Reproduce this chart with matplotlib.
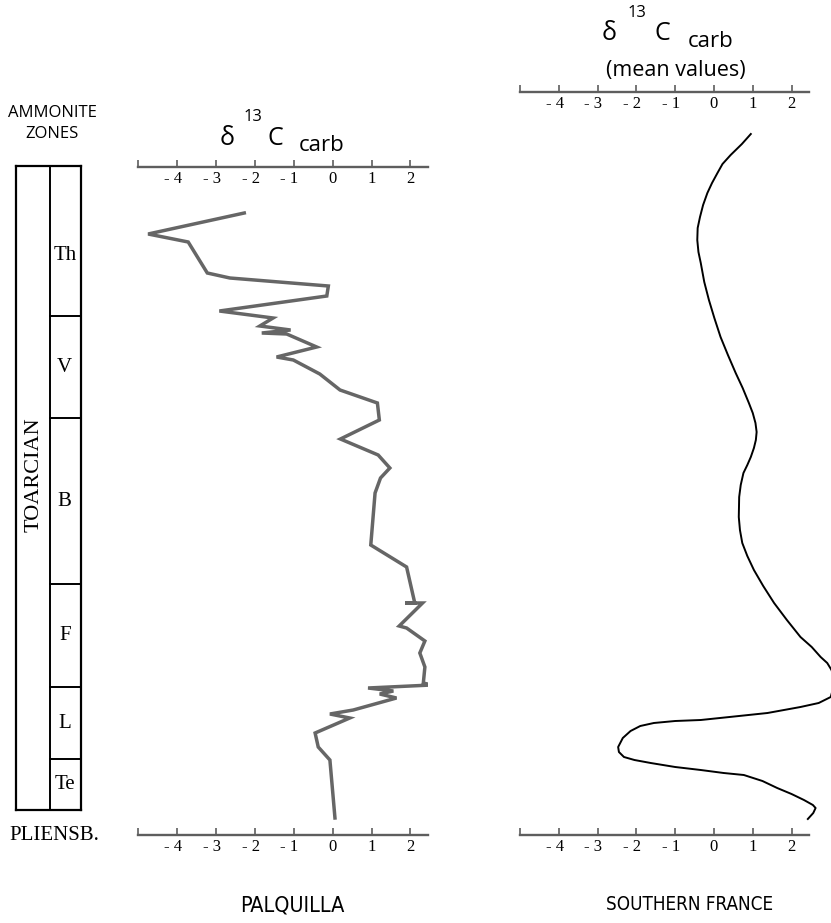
import matplotlib
matplotlib.use("Agg")
import matplotlib.pyplot as plt

# Palquilla d13C (carb) vs. stratigraphic height (same units as the zone column)
pal_d13c = [-2.27, -4.74, -3.71, -3.22, -2.64, -0.11, -0.15, -2.91, -1.53, -1.87,
            -1.08, -1.82, -1.18, -0.41, -1.44, -1.01, -0.33, 0.19, 1.15, 1.20,
            0.20, 1.17, 1.47, 1.23, 1.09, 0.98, 1.90, 2.11, 1.86, 2.31,
            1.71, 1.90, 2.37, 2.24, 2.37, 2.33, 2.54, 0.91, 1.56, 1.21,
            1.64, 0.53, -0.07, 0.44, -0.45, -0.37, -0.07, 0.06]
pal_height = [597, 576, 568, 537, 532, 524, 514, 499, 492, 484,
              480, 477, 476, 463, 453, 450, 436, 420, 407, 390,
              371, 355, 342, 332, 317, 265, 243, 207, 207, 207,
              184, 182, 169, 157, 143, 127, 125, 122, 119, 116,
              112, 100, 96, 92, 77, 63, 50, -8]

# Southern France mean d13C (carb) curve
sf_d13c = [0.95, 0.72, 0.43, 0.22, 0.09, -0.05, -0.17, -0.28, -0.36, -0.42,
           -0.43, -0.40, -0.34, -0.25, -0.13, 0.01, 0.17, 0.36, 0.56, 0.74,
           0.90, 1.00, 1.07, 1.10, 1.08, 1.03, 0.95, 0.86, 0.76, 0.69,
           0.65, 0.64, 0.67, 0.73, 0.86, 1.03, 1.27, 1.55, 1.88, 2.23,
           2.52, 2.75, 2.92, 3.03, 3.08, 3.09, 3.06, 3.01, 2.70, 2.23,
           1.38, 0.40, -0.34, -1.00, -1.55, -1.90, -2.15, -2.35, -2.47, -2.45,
           -2.32, -2.05, -1.63, -1.00, -0.34, 0.25, 0.77, 1.25, 1.63, 2.00,
           2.32, 2.55, 2.62, 2.56, 2.42]
sf_height = [676, 666, 655, 646, 637, 627, 617, 605, 593, 582,
             570, 558, 547, 528, 510, 492, 473, 455, 437, 422,
             407, 397, 387, 378, 370, 362, 353, 345, 337, 325,
             313, 293, 280, 267, 254, 240, 224, 207, 190, 173,
             163, 153, 147, 140, 134, 127, 120, 113, 107, 103,
             97, 93, 90, 89, 87, 84, 79, 72, 63, 58,
             53, 50, 47, 43, 40, 37, 35, 29, 22, 16,
             10, 5, 2, -3, -9]

# ammonite zones (top boundary of the column first)
zone_names = ["Th", "V", "B", "F", "L", "Te"]
zone_bounds = [644, 494, 392, 226, 123, 51, 0]

tick_vals = [-5, -4, -3, -2, -1, 0, 1, 2]
tick_labels = ["", "- 4\u2002", "- 3\u2002", "- 2\u2002", "- 1\u2002", "0", "1", "2"]

W, H = 831, 923
fig = plt.figure(figsize=(W / 100, H / 100), dpi=100)
axis_gray = "#5e5e5e"
serif = ["Liberation Serif", "DejaVu Serif"]
sans = ["Open Sans", "DejaVu Sans"]


def rect(x0, y_top, x1, y_bot):
    return [x0 / W, 1 - y_bot / H, (x1 - x0) / W, (y_bot - y_top) / H]


def scale_bar(x0, x1, y, xlim):
    a = fig.add_axes(rect(x0, y - 0.5, x1, y))
    a.set_xlim(xlim)
    a.set_ylim(0, 1)
    for s in ["top", "left", "right"]:
        a.spines[s].set_visible(False)
    a.spines["bottom"].set_color(axis_gray)
    a.spines["bottom"].set_linewidth(1.7)
    a.set_yticks([])
    a.set_xticks(tick_vals)
    a.set_xticklabels(tick_labels, fontfamily=serif, fontsize=12)
    a.tick_params(axis="x", direction="in", length=5, width=1.2,
                  color=axis_gray, pad=3)
    a.patch.set_visible(False)
    return a


def blank(a):
    for s in a.spines.values():
        s.set_visible(False)
    a.set_xticks([])
    a.set_yticks([])
    a.patch.set_visible(False)


# Palquilla column
xl1 = (-5, 2.45)
ax1 = fig.add_axes(rect(138, 167, 428, 835))
ax1.plot(pal_d13c, pal_height, color="#666666", lw=2.5, solid_joinstyle="miter")
ax1.set_xlim(xl1)
ax1.set_ylim(-25, 643)
blank(ax1)
scale_bar(138, 428, 167, xl1)
scale_bar(138, 428, 835, xl1)

# Southern France column
xl2 = (-5, 2.45)
ax2 = fig.add_axes(rect(520, 92, 809, 835))
ax2.plot(sf_d13c, sf_height, color="black", lw=1.4, clip_on=False,
         solid_joinstyle="round")
ax2.set_xlim(xl2)
ax2.set_ylim(-25, 718)
blank(ax2)
scale_bar(520, 809, 92, xl2)
scale_bar(520, 809, 835, xl2)

# ammonite zone column
axz = fig.add_axes(rect(16, 166, 81, 810))
axz.set_xlim(0, 1)
axz.set_ylim(0, 644)
axz.set_xticks([])
axz.set_yticks([])
for s in axz.spines.values():
    s.set_linewidth(1.6)
    s.set_color("black")
split = 34 / 65
axz.axvline(split, color="black", lw=1.4)
for b in zone_bounds[1:-1]:
    axz.plot([split, 1], [b, b], color="black", lw=1.4)
for i, (name, top, bot) in enumerate(zip(zone_names, zone_bounds[:-1], zone_bounds[1:])):
    yc = (top + bot) / 2
    if i == 0:
        yc -= 14  # label sits a bit low in its box
    axz.text(0.75, yc, name, ha="center", va="center",
             fontfamily=serif, fontsize=15)
axz.text(split / 2 + 0.02, 335, "TOARCIAN", rotation=90, ha="center",
         va="center", fontfamily=serif, fontsize=16)


# titles and labels
def ftext(x, y, s, **kw):
    fig.text(x / W, 1 - y / H, s, **kw)


ftext(52, 113, "AMMONITE", ha="center", va="center", fontfamily=sans, fontsize=12)
ftext(52, 134, "ZONES", ha="center", va="center", fontfamily=sans, fontsize=12)
ftext(54, 836, "PLIENSB.", ha="center", va="center", fontfamily=serif, fontsize=15)

ftext(227, 145, "\u03b4", ha="center", va="baseline", fontfamily=sans, fontsize=18)
ftext(253, 121, "13", ha="center", va="baseline", fontfamily=sans, fontsize=12)
ftext(275, 145, "C", ha="center", va="baseline", fontfamily=sans, fontsize=18)
ftext(322, 151, "carb", ha="center", va="baseline", fontfamily=sans, fontsize=16)

ftext(609, 40, "\u03b4", ha="center", va="baseline", fontfamily=sans, fontsize=18)
ftext(637, 17, "13", ha="center", va="baseline", fontfamily=sans, fontsize=12)
ftext(662, 40, "C", ha="center", va="baseline", fontfamily=sans, fontsize=18)
ftext(711, 47, "carb", ha="center", va="baseline", fontfamily=sans, fontsize=16)
ftext(676, 76, "(mean values)", ha="center", va="baseline", fontfamily=sans, fontsize=15.5)

ftext(292, 905, "PALQUILLA", ha="center", va="center", fontfamily=["DejaVu Sans"],
      fontstretch="condensed", fontsize=15.5)
ftext(690, 905, "SOUTHERN FRANCE", ha="center", va="center", fontfamily=["DejaVu Sans"],
      fontstretch="condensed", fontsize=13.5)

fig.savefig("out.png", dpi=100)
